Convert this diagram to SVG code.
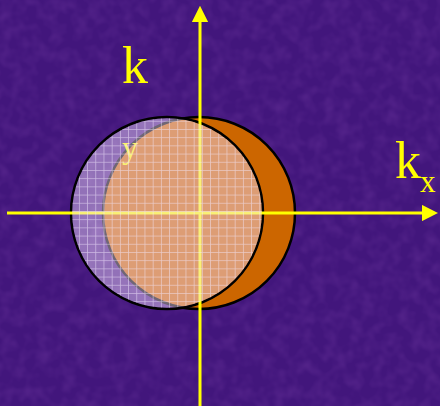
<svg xmlns="http://www.w3.org/2000/svg" width="440" height="406" viewBox="0 0 440 406">
<style>
.lbl{font-family:"Liberation Serif","Times New Roman",serif;fill:#ffff00}
.axis{stroke:#ffff00;stroke-width:3;fill:none}
.edge{stroke:#000;stroke-width:2.5}
</style>
<defs>
<filter id="tex" x="0" y="0" width="100%" height="100%">
<feTurbulence type="fractalNoise" baseFrequency="0.08" numOctaves="2" seed="3"/>
<feColorMatrix type="matrix" values="0 0 0 0 0.16  0 0 0 0 0.04  0 0 0 0 0.35  0 0 0 1.2 -0.45"/>
</filter>
<pattern id="grid" x="144.5" y="170" width="8.2" height="8.2" patternUnits="userSpaceOnUse">
<path d="M0 0V8.2M0 0H8.2" stroke="#f4eaff" stroke-width="1.5" stroke-opacity="0.6" fill="none"/>
</pattern>
<marker id="ah" viewBox="0 0 10 10" refX="0" refY="5" markerWidth="5.4" markerHeight="5.4" orient="auto" markerUnits="strokeWidth">
<path d="M0 0L10 5L0 10Z" fill="#ffff00"/>
</marker>
</defs>
<rect width="440" height="406" fill="#42167c"/>
<rect width="440" height="406" filter="url(#tex)" opacity="0.6"/>
<g id="orange-circle">
<circle cx="199" cy="213" r="96" fill="#cc6600" class="edge"/>
</g>
<g id="grid-circle-outline">
<circle cx="167" cy="213" r="96" fill="none" class="edge"/>
</g>
<g id="label-ky">
<text class="lbl" x="122" y="83" font-size="52">k</text>
<text class="lbl" x="122" y="158" font-size="32">y</text>
</g>
<g id="connectors">
<line class="axis" x1="200" y1="406" x2="200" y2="22" marker-end="url(#ah)"/>
<line class="axis" x1="7" y1="213" x2="422" y2="213" marker-end="url(#ah)"/>
</g>
<g id="grid-circle">
<circle cx="167" cy="213" r="94.8" fill="#f2deff" fill-opacity="0.46"/>
<circle cx="167" cy="213" r="94.8" fill="url(#grid)"/>
</g>
<g id="label-kx">
<text class="lbl" x="395" y="178" font-size="52">k</text>
<text class="lbl" x="420" y="192" font-size="31">x</text>
</g>
</svg>
